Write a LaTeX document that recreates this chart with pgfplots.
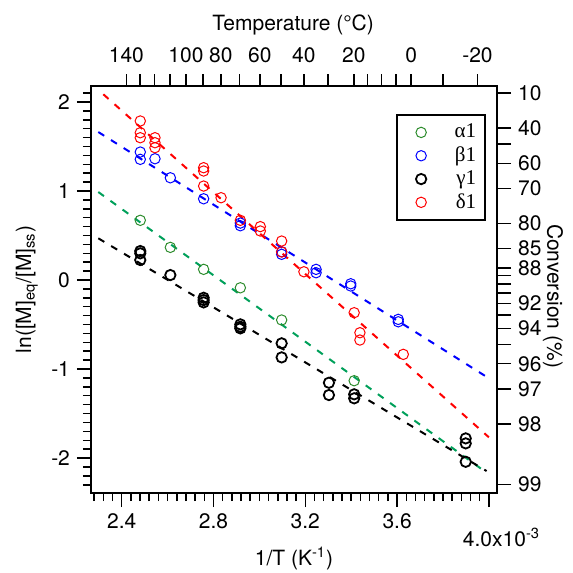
\documentclass[border=0pt]{standalone}
\usepackage{fontspec}
\setmainfont{TeX Gyre Heros}
\newfontfamily\grk{Liberation Serif}
\usepackage{pgfplots}
\pgfplotsset{compat=1.18}

\definecolor{cgreen}{RGB}{45,140,45}
\definecolor{lgreen}{RGB}{0,160,90}
\definecolor{cblue}{RGB}{0,0,255}
\definecolor{cred}{RGB}{255,0,0}

\pgfplotsset{
  base/.style={
    width=203pt, height=203.5pt, scale only axis,
    xmin=2.2662, xmax=4.0353, ymin=-2.393, ymax=2.180,
    tick align=outside,
    major tick length=7pt, minor tick length=4pt,
    every tick/.style={black, line width=0.75pt},
    axis line style={line width=1pt},
    tick label style={font=\fontsize{10.5}{12}\selectfont},
    label style={font=\fontsize{10.5}{12}\selectfont},
  },
  dots/.style={only marks, mark=o, mark size=2.6pt, mark options={line width=0.5pt}},
  fit/.style={line width=1pt, dash pattern=on 3.5pt off 4pt, forget plot},
}

\begin{document}
\begin{tikzpicture}
\begin{axis}[base,
  xtick pos=left, ytick pos=left,
  xtick={2.4,2.8,3.2,3.6}, xticklabels={2.4,2.8,3.2,3.6},
  minor xtick={2.28,2.32,...,4.0},
  extra x ticks={4.0}, extra x tick labels={4.0x10\textsuperscript{-3}},
  extra x tick style={tick label style={anchor=north west, xshift=-16.5pt, yshift=-7pt}},
  ytick={-2,-1,0,1,2}, yticklabels={-2,-1,0,1,2},
  minor ytick={-2.3,-2.2,...,2.15},
  xlabel={1/T (K\textsuperscript{-1})},
  ylabel={ln([M]\textsubscript{eq}/[M]\textsubscript{ss})},
  xlabel style={at={(axis description cs:0.5,-0.16)}, anchor=center},
  ylabel style={at={(axis description cs:-0.158,0.5)}, anchor=center},
  legend style={at={(axis description cs:0.973,0.931)}, anchor=north east,
    draw=black, line width=0.9pt, font=\fontsize{10.5}{12}\selectfont,
    inner xsep=3pt, inner ysep=3pt, row sep=0pt, nodes={inner sep=1.5pt}},
  legend cell align=right,
  legend image code/.code={\draw[#1] plot coordinates {(0.3cm,0cm)}; \path (0,0) (0.82cm,0);},
]
% fitted lines
\addplot[fit, lgreen] coordinates {(2.298,0.989) (3.990,-2.165)};
\addplot[fit, cblue] coordinates {(2.298,1.663) (4.000,-1.104)};
\addplot[fit, black] coordinates {(2.298,0.469) (3.990,-2.146)};
\addplot[fit, cred] coordinates {(2.320,2.087) (4.000,-1.767)};

% alpha1
\addplot[dots, cgreen] coordinates {
  (2.481,0.671) (2.612,0.367) (2.757,0.120) (2.917,-0.087) (3.097,-0.449) (3.413,-1.131)
};
\addlegendentry{\grk α1}
% beta1
\addplot[dots, cblue] coordinates {
  (2.481,1.438) (2.481,1.356) (2.545,1.363) (2.612,1.149) (2.757,0.913)
  (2.917,0.640) (2.917,0.610) (3.097,0.318) (3.097,0.289)
  (3.247,0.120) (3.247,0.082) (3.398,-0.042) (3.398,-0.067)
  (3.605,-0.442) (3.605,-0.469)
};
\addlegendentry{\grk β1}
% gamma1
\addplot[dots, black, mark options={line width=0.9pt}] coordinates {
  (2.481,0.326) (2.481,0.300) (2.481,0.225) (2.612,0.056)
  (2.757,-0.199) (2.757,-0.225) (2.757,-0.251)
  (2.917,-0.498) (2.917,-0.525) (2.917,-0.543)
  (3.097,-0.711) (3.097,-0.869) (3.303,-1.154) (3.303,-1.292)
  (3.413,-1.284) (3.413,-1.329)
  (3.899,-1.779) (3.899,-1.835) (3.899,-2.042)
};
\addlegendentry{\grk γ1}
% delta1
\addplot[dots, cred] coordinates {
  (2.481,1.787) (2.481,1.655) (2.481,1.599)
  (2.545,1.599) (2.545,1.543) (2.545,1.487)
  (2.757,1.262) (2.757,1.225) (2.757,1.056)
  (2.833,0.925) (2.917,0.671) (3.004,0.600) (3.004,0.551)
  (3.097,0.438) (3.097,0.315) (3.194,0.093)
  (3.413,-0.367) (3.438,-0.592) (3.438,-0.674) (3.627,-0.835)
};
\addlegendentry{\grk δ1}

\coordinate (bbsw) at (rel axis cs:-0.2241,-0.1941);
\coordinate (bbne) at (rel axis cs:1.1872,1.2113);
\end{axis}

% top axis: temperature
\begin{axis}[base,
  axis x line*=top, axis y line=none,
  major tick length=6pt,
  xticklabel style={yshift=2pt},
  xtick={2.42043,2.48047,2.54356,2.60994,2.67989,2.75368,2.83166,2.91418,3.00165,3.09454,3.19336,3.29870,3.41122,3.47041,3.53170,3.59518,3.66099,3.80011,3.95023},
  xticklabels={140,,,,100,,80,,60,,40,,20,,,,0,,-20},
  xlabel={Temperature (°C)},
  xlabel style={at={(axis description cs:0.498,1.15)}, anchor=center},
]
\end{axis}

% right axis: conversion
\begin{axis}[base,
  axis y line*=right, axis x line=none,
  ytick={2.104,1.7075,1.5292,1.3110,1.0298,0.6333,0.3520,0.1338,0.0487,-0.0445,-0.1475,-0.2627,-0.3932,-0.5440,-0.7222,-0.9404,-1.2217,-1.6182,-2.2960},
  yticklabels={10,40,,60,70,80,85,88,,,,92,,94,,96,97,98,99},
  ylabel={Conversion (\%)},
  ylabel style={at={(axis description cs:1.138,0.484)}, anchor=center, rotate=180},
]
\end{axis}

\pgfresetboundingbox
\useasboundingbox (bbsw) rectangle (bbne);
\end{tikzpicture}
\end{document}
